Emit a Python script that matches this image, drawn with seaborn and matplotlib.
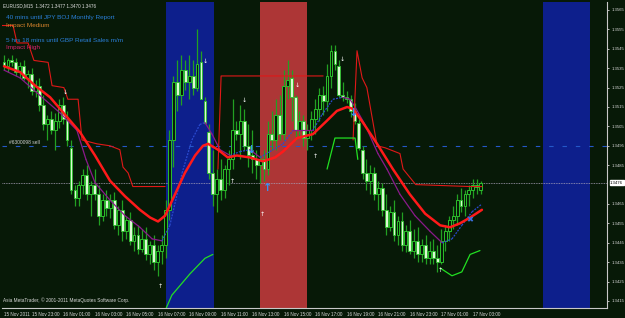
import matplotlib
matplotlib.use("Agg")
import matplotlib.pyplot as plt
import numpy as np
import pandas as pd
import seaborn as sns

# ------------------------------------------------------------------ data
bar_open = [1.3538,1.3536,1.3539,1.3538,1.3533,1.3536,1.3530,1.3532,1.3523,1.3526,
            1.3516,1.3506,1.3509,1.3503,1.3508,1.3516,1.3509,1.3494,1.3472,1.3468,
            1.3475,1.3480,1.3470,1.3475,1.3470,1.3459,1.3467,1.3463,1.3467,1.3454,
            1.3462,1.3451,1.3457,1.3446,1.3449,1.3442,1.3447,1.3439,1.3444,1.3435,
            1.3441,1.3444,1.3462,1.3498,1.3528,1.3521,1.3534,1.3528,1.3531,1.3525,
            1.3538,1.3518,1.3502,1.3481,1.3470,1.3478,1.3472,1.3483,1.3488,1.3503,
            1.3501,1.3508,1.3495,1.3490,1.3488,1.3485,1.3488,1.3483,1.3501,1.3498,
            1.3511,1.3501,1.3526,1.3530,1.3520,1.3503,1.3508,1.3499,1.3503,1.3509,
            1.3514,1.3521,1.3518,1.3531,1.3544,1.3536,1.3521,1.3520,1.3519,1.3513,
            1.3507,1.3493,1.3481,1.3477,1.3481,1.3470,1.3473,1.3462,1.3453,1.3461,
            1.3449,1.3456,1.3444,1.3451,1.3441,1.3446,1.3439,1.3444,1.3437,1.3441,
            1.3437,1.3435,1.3446,1.3451,1.3457,1.3459,1.3467,1.3464,1.3470,1.3472,
            1.3475,1.3472]
bar_high = [1.3542,1.3540,1.3542,1.3540,1.3538,1.3539,1.3534,1.3535,1.3529,1.3530,
            1.3521,1.3511,1.3513,1.3512,1.3519,1.3520,1.3513,1.3498,1.3475,1.3477,
            1.3483,1.3485,1.3477,1.3483,1.3475,1.3470,1.3472,1.3470,1.3471,1.3464,
            1.3467,1.3459,1.3461,1.3453,1.3454,1.3452,1.3453,1.3446,1.3449,1.3444,
            1.3449,1.3467,1.3503,1.3531,1.3539,1.3542,1.3539,1.3542,1.3539,1.3555,
            1.3544,1.3520,1.3506,1.3493,1.3483,1.3488,1.3485,1.3493,1.3519,1.3508,
            1.3516,1.3514,1.3506,1.3503,1.3493,1.3490,1.3493,1.3508,1.3513,1.3519,
            1.3521,1.3534,1.3539,1.3534,1.3521,1.3513,1.3511,1.3506,1.3513,1.3519,
            1.3525,1.3526,1.3537,1.3547,1.3547,1.3539,1.3528,1.3523,1.3521,1.3517,
            1.3509,1.3495,1.3488,1.3485,1.3484,1.3477,1.3476,1.3470,1.3464,1.3467,
            1.3459,1.3461,1.3454,1.3457,1.3452,1.3453,1.3447,1.3449,1.3446,1.3447,
            1.3444,1.3452,1.3454,1.3459,1.3464,1.3470,1.3473,1.3472,1.3475,1.3478,
            1.3478,1.3477]
bar_low = [1.3534,1.3533,1.3536,1.3531,1.3530,1.3529,1.3525,1.3521,1.3520,1.3513,
           1.3503,1.3498,1.3501,1.3493,1.3504,1.3506,1.3495,1.3470,1.3464,1.3464,
           1.3470,1.3467,1.3459,1.3467,1.3454,1.3456,1.3459,1.3458,1.3452,1.3449,
           1.3446,1.3447,1.3444,1.3441,1.3439,1.3440,1.3436,1.3434,1.3431,1.3428,
           1.3434,1.3437,1.3457,1.3484,1.3513,1.3516,1.3524,1.3519,1.3521,1.3523,
           1.3519,1.3506,1.3478,1.3464,1.3461,1.3467,1.3468,1.3475,1.3483,1.3498,
           1.3488,1.3493,1.3484,1.3481,1.3478,1.3476,1.3477,1.3480,1.3493,1.3493,
           1.3498,1.3498,1.3519,1.3508,1.3498,1.3499,1.3495,1.3493,1.3498,1.3501,
           1.3508,1.3511,1.3513,1.3525,1.3534,1.3520,1.3518,1.3517,1.3510,1.3506,
           1.3493,1.3478,1.3472,1.3470,1.3467,1.3462,1.3459,1.3449,1.3451,1.3446,
           1.3444,1.3441,1.3440,1.3439,1.3437,1.3435,1.3435,1.3434,1.3434,1.3434,
           1.3430,1.3434,1.3441,1.3446,1.3452,1.3454,1.3461,1.3459,1.3464,1.3468,
           1.3470,1.3470]
bar_close = [1.3536,1.3539,1.3538,1.3533,1.3536,1.3530,1.3532,1.3523,1.3526,1.3516,
             1.3506,1.3509,1.3503,1.3508,1.3516,1.3509,1.3498,1.3472,1.3468,1.3475,
             1.3480,1.3470,1.3475,1.3470,1.3459,1.3467,1.3463,1.3467,1.3454,1.3462,
             1.3451,1.3457,1.3446,1.3449,1.3442,1.3447,1.3439,1.3444,1.3435,1.3441,
             1.3444,1.3462,1.3498,1.3528,1.3521,1.3534,1.3528,1.3531,1.3525,1.3537,
             1.3519,1.3507,1.3481,1.3470,1.3478,1.3472,1.3483,1.3488,1.3503,1.3501,
             1.3508,1.3495,1.3490,1.3488,1.3485,1.3488,1.3483,1.3501,1.3498,1.3511,
             1.3501,1.3526,1.3529,1.3520,1.3503,1.3508,1.3499,1.3503,1.3509,1.3514,
             1.3521,1.3518,1.3531,1.3544,1.3537,1.3521,1.3520,1.3519,1.3513,1.3508,
             1.3494,1.3481,1.3477,1.3481,1.3470,1.3473,1.3462,1.3453,1.3461,1.3449,
             1.3456,1.3444,1.3451,1.3441,1.3446,1.3439,1.3444,1.3437,1.3441,1.3437,
             1.3435,1.3446,1.3451,1.3457,1.3459,1.3467,1.3464,1.3470,1.3472,1.3475,
             1.3474,1.3476]

# slow moving average (thick red), read at sample bars
slow_ma_bar = [0,4.1,7.9,11.7,15.5,19.3,23.1,26.9,30.7,34.5,37.1,39.1,40.9,43.4,45.9,48.5,50.5,51.8,
               54.3,56.8,59.1,62.4,65.7,68.8,70.8,74.4,78.4,82,84.5,87.1,88.6,91.1,94.7,98.7,103,
               106.9,110.7,113.2,115.7,118.3,121.3]
slow_ma_val = [1.3536,1.3533,1.3526,1.3520,1.3511,1.3502,1.3490,1.3477,1.3469,1.3462,1.3458,1.3456,
               1.3459,1.3470,1.3481,1.3490,1.3495,1.3496,1.3493,1.3489,1.3490,1.3489,1.3487,1.3489,
               1.3492,1.3499,1.3501,1.3508,1.3513,1.3515,1.3514,1.3507,1.3496,1.3483,1.3470,1.3460,
               1.3454,1.3453,1.3455,1.3458,1.3462]

# fast moving average (blue dotted when rising, purple when falling)
fast_ma_bar = [0,4.1,9.1,14.2,18.5,20.8,23.1,26.9,30.7,34.5,37.6,40.1,42.1,45.2,47.7,49.7,51,52.8,
               54.8,57.4,59.9,62.4,65,67.5,70.8,73.4,76.9,78.4,80.7,83.5,86,87.8,89.1,91.6,94.9,
               97.2,100.5,104.3,108.1,111.2,113.7,116.2,118.8,121.3]
fast_ma_val = [1.3534,1.3530,1.3521,1.3512,1.3503,1.3488,1.3476,1.3467,1.3459,1.3453,1.3447,1.3446,
               1.3454,1.3481,1.3498,1.3506,1.3507,1.3501,1.3493,1.3490,1.3492,1.3493,1.3489,1.3492,
               1.3496,1.3503,1.3503,1.3503,1.3511,1.3519,1.3520,1.3519,1.3515,1.3506,1.3491,1.3483,
               1.3470,1.3459,1.3451,1.3445,1.3447,1.3454,1.3461,1.3465]

# upper channel (thin red), three pieces
upper_a_bar = [-1.0,2.3,3.3,6.1,7.6,11.2,12.2,15.2,16.2,18.8,19.8,23.6,26.9,29.4,30.2,31.5,32.7,40.9]
upper_a_val = [1.3557,1.3557,1.3548,1.3548,1.3539,1.3538,1.3526,1.3525,1.3519,1.3519,1.3498,1.3496,
               1.3495,1.3493,1.3484,1.3481,1.3474,1.3474]
upper_b_bar = [54.3,55.1,81.0]
upper_b_val = [1.3483,1.3531,1.3531]
upper_c_bar = [88.6,89.6,90.9,92.1,93.4,94.7,96.7,100.5,101.3,104.5,118.3,121.3]
upper_c_val = [1.3498,1.3544,1.3530,1.3525,1.3510,1.3495,1.3494,1.3491,1.3483,1.3475,1.3474,1.3474]

# lower channel (thin green)
lower_a_bar = [41.1,42.6,47.2,51.0,53.0]
lower_a_val = [1.3411,1.3418,1.3429,1.3437,1.3439]
lower_b_bar = [82.0,84.0,89.1,89.8]
lower_b_val = [1.3483,1.3499,1.3499,1.3488]
lower_c_bar = [110.7,113.7,116.2,118.3,120.8]
lower_c_val = [1.3432,1.3428,1.3430,1.3439,1.3441]

# fractal marks
fractal_up_bar = [15.5,51.0,60.9,74.4,85.8]
fractal_up_val = [1.3521,1.3537,1.3517,1.3525,1.3538]
fractal_dn_bar = [39.6,57.9,65.5,79.0,110.7]
fractal_dn_val = [1.3424,1.3478,1.3461,1.3491,1.3432]

# signal arrows
sell_arrow_bar = [62.9,88.8]
sell_arrow_val = [1.3493,1.3512]
buy_arrow_bar = [67.0]
buy_arrow_val = [1.3473]
cross_bar = [118.3]
cross_val = [1.3457]

# news windows (bar units)
medium_news = [(41.1,53.3),(136.8,148.7)]
high_news = [(65.0,76.9)]

bid_price = 1.3476
order_price = 1.3495
order_label = "#6300098 sell"

price_ticks = [1.3565,1.3555,1.3545,1.3535,1.3525,1.3515,1.3505,1.3495,1.3485,
               1.3465,1.3455,1.3445,1.3435,1.3425,1.3415]
time_tick_bar = [0,7,15,23,31,39,47,55,63,71,79,87,95,103,111,119]
time_tick_lab = ["15 Nov 2011","15 Nov 23:00","16 Nov 01:00","16 Nov 03:00","16 Nov 05:00",
                 "16 Nov 07:00","16 Nov 09:00","16 Nov 11:00","16 Nov 13:00","16 Nov 15:00",
                 "16 Nov 17:00","16 Nov 19:00","16 Nov 21:00","16 Nov 23:00","17 Nov 01:00",
                 "17 Nov 03:00"]

header = "EURUSD,M15  1.3472 1.3477 1.3470 1.3476"
news_lines = [("40 mins until JPY BOJ Monthly Report", "#2a7fd8"),
              ("Impact Medium", "#d8842c"),
              ("5 hrs 18 mins until GBP Retail Sales m/m", "#2a7fd8"),
              ("Impact High", "#d8206e")]
copyright_txt = "Asia MetaTrader, \u00a9 2001-2011 MetaQuotes Software Corp."

# ------------------------------------------------------------------ style
sns.set_style("dark")
plt.rcParams['font.family'] = ['Liberation Sans', 'DejaVu Sans']

BG = "#071907"
W, H = 625, 318
fig = plt.figure(figsize=(W / 100, H / 100), dpi=100, facecolor=BG)
ax = fig.add_axes([2 / W, 10 / H, 605 / W, 306 / H])
ax.set_facecolor(BG)

def fx(x):
    return x / W

def fy(y):
    return 1 - y / H

# news bands
for a, b in medium_news:
    ax.axvspan(a, b, color="#0d1f8c", lw=0, zorder=0)
for a, b in high_news:
    ax.axvspan(a, b, color="#ad3636", lw=0, zorder=0)

# horizontal lines
ax.axhline(order_price, color="#2458c8", lw=0.8, ls=(0, (4, 8)), zorder=1)
ax.axhline(bid_price, color="#a8a0b8", lw=0.6, ls=(0, (1, 1)), zorder=1)

# candles
df = pd.DataFrame({"bar": np.arange(len(bar_open)), "open": bar_open, "high": bar_high,
                   "low": bar_low, "close": bar_close})
WICK = "#22a022"
ax.vlines(df["bar"], df["low"], df["high"], color=WICK, lw=0.9, zorder=3)
up = df[df["close"] >= df["open"]]
dn = df[df["close"] < df["open"]]
ax.bar(up["bar"], (up["close"] - up["open"]).clip(lower=0.00003), bottom=up["open"], width=0.72,
       facecolor=BG, edgecolor="#2cc02c", lw=0.7, zorder=4)
ax.bar(dn["bar"], dn["close"] - dn["open"], bottom=dn["open"], width=0.72,
       facecolor="#dcf8d4", edgecolor="#2cc02c", lw=0.6, zorder=4)

# moving averages
sns.lineplot(x=slow_ma_bar, y=slow_ma_val, ax=ax, color="#ff1a1a", lw=1.8, sort=False,
             estimator=None, zorder=6)
for k in range(len(fast_ma_bar) - 1):
    rising = fast_ma_val[k + 1] > fast_ma_val[k]
    ax.plot(fast_ma_bar[k:k + 2], fast_ma_val[k:k + 2],
            color="#2a4ad0" if rising else "#8a1a8a",
            lw=0.9, ls=(0, (1.5, 1)) if rising else "-", zorder=5)

# channels
for bx, by in [(upper_a_bar, upper_a_val), (upper_b_bar, upper_b_val), (upper_c_bar, upper_c_val)]:
    sns.lineplot(x=bx, y=by, ax=ax, color="#e01818", lw=0.8, sort=False, estimator=None, zorder=5)
for bx, by in [(lower_a_bar, lower_a_val), (lower_b_bar, lower_b_val), (lower_c_bar, lower_c_val)]:
    sns.lineplot(x=bx, y=by, ax=ax, color="#22e022", lw=0.9, sort=False, estimator=None, zorder=5)

# markers
for b, v in zip(fractal_up_bar, fractal_up_val):
    ax.text(b, v, "\u2193", color="white", fontsize=4.5, ha="center", va="bottom", zorder=7,
            family="DejaVu Sans")
for b, v in zip(fractal_dn_bar, fractal_dn_val):
    ax.text(b, v, "\u2191", color="white", fontsize=4.5, ha="center", va="top", zorder=7,
            family="DejaVu Sans")
for b, v in zip(sell_arrow_bar, sell_arrow_val):
    ax.text(b, v, "\u2193", color="#3a90f0", fontsize=8, fontweight="bold", ha="center",
            va="center", zorder=8, family="DejaVu Sans")
for b, v in zip(buy_arrow_bar, buy_arrow_val):
    ax.text(b, v, "\u2191", color="#3a90f0", fontsize=8, fontweight="bold", ha="center",
            va="center", zorder=8, family="DejaVu Sans")
for b, v in zip(cross_bar, cross_val):
    ax.text(b, v, "\u2716", color="#3a70e0", fontsize=6, ha="center", va="center", zorder=8,
            family="DejaVu Sans")

# axes
YLO, YHI = 1.341139, 1.356912
ax.set_xlim(-0.51, 153.05)
ax.set_ylim(YLO, YHI)
for s in ["left", "top"]:
    ax.spines[s].set_visible(False)
for s in ["right", "bottom"]:
    ax.spines[s].set_color("#c8c8c8")
    ax.spines[s].set_linewidth(0.8)
ax.grid(False)
ax.yaxis.tick_right()
ax.set_yticks(price_ticks)
ax.set_yticklabels([f"{p:.4f}" for p in price_ticks])
ax.set_xticks(time_tick_bar)
ax.set_xticklabels(time_tick_lab, ha="left")
ax.tick_params(axis="y", colors="#d8d8d8", labelsize=3.1, length=1.5, width=0.6, pad=1.5)
ax.tick_params(axis="x", colors="#d8d8d8", labelsize=3.3, length=2, width=0.6, pad=1)
ax.set_xlabel("")
ax.set_ylabel("")

# current price box
ax.text(1.005, (bid_price - YLO) / (YHI - YLO), f"{bid_price:.4f}",
        transform=ax.transAxes, fontsize=3.1, color="black", va="center", ha="left",
        bbox=dict(boxstyle="square,pad=0.12", fc="white", ec="white"), zorder=9, clip_on=False)

# order label
ax.text(1.2, order_price + 0.00005, order_label, fontsize=3.5, color="#d0d0d0", va="bottom",
        ha="left", zorder=7)

# texts
fig.text(fx(3), fy(6), header, fontsize=3.3, color="#e0e0e0", va="center", ha="left")
for (t, c), yy in zip(news_lines, [17, 25, 40, 47]):
    fig.text(fx(6), fy(yy), t, fontsize=4.6, color=c, va="center", ha="left")
fig.text(fx(3), fy(300), copyright_txt, fontsize=3.4, color="#d8d8d8", va="center", ha="left")

fig.savefig("out.png", dpi=100, facecolor=BG)
